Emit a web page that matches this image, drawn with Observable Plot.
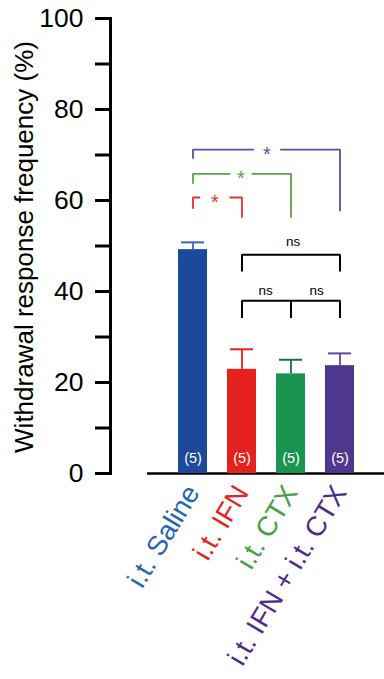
<!DOCTYPE html>
<html>
<head>
<meta charset="utf-8">
<script src="https://cdn.jsdelivr.net/npm/d3@7"></script>
<script src="https://cdn.jsdelivr.net/npm/@observablehq/plot@0.6"></script>
<style>
  html, body { margin: 0; padding: 0; background: #fff; }
  #chart svg { display: block; }
</style>
</head>
<body>
<div id="chart"></div>
<script>
// ---- data ----
const categories = ["i.t. Saline", "i.t. IFN", "i.t. CTX", "i.t. IFN + i.t. CTX"];
const means = [49.2, 22.9, 21.9, 23.7];
const sems = [1.6, 4.4, 3.1, 2.7];
const nLabels = ["(5)", "(5)", "(5)", "(5)"];
const barColors = ["#1b4a9c", "#e5211d", "#1a9550", "#4f378f"];
const errColors = ["#3a68b5", "#e5241f", "#1d6e3e", "#5a4aa5"];
const labelColors = ["#2864b4", "#e3241f", "#45a041", "#4b2c8c"];
const yTicks = [0, 10, 20, 30, 40, 50, 60, 70, 80, 90, 100];
const yTickLabels = [0, 20, 40, 60, 80, 100];
const yTitle = "Withdrawal response frequency (%)";

// significance brackets (values in y-data units)
const sigBrackets = [
  {id: "red", color: "#e8302c", from: "i.t. Saline", to: "i.t. IFN", top: 60.66, legFrom: 58.2, legTo: 56.2},
  {id: "green", color: "#5aa448", from: "i.t. Saline", to: "i.t. CTX", top: 65.87, legFrom: 63.67, legTo: 56.2},
  {id: "purple", color: "#5b4fa3", from: "i.t. Saline", to: "i.t. IFN + i.t. CTX", top: 71.2, legFrom: 69.2, legTo: 57.65}
];
const sigMarks = ["*", "*", "*"];
const sigMarkX = ["i.t. IFN", "i.t. IFN", "i.t. IFN"];
const sigMarkShift = [-27, -1, 25];
const sigGapWidth = [22, 14, 19];

const nsBrackets = [
  {id: "ns1", from: "i.t. IFN", to: "i.t. IFN + i.t. CTX", top: 48.07, legFrom: 44.4, legTo: 44.4},
  {id: "ns2", from: "i.t. IFN", to: "i.t. IFN + i.t. CTX", top: 37.96, legFrom: 34.2, legTo: 34.2}
];
const nsMid = {x: "i.t. CTX", top: 37.96, bottom: 34.2};
const nsLabels = [
  {text: "ns", x: "i.t. CTX", y: 51.0, shift: 2},
  {text: "ns", x: "i.t. CTX", y: 40.2, shift: -25.5},
  {text: "ns", x: "i.t. CTX", y: 40.2, shift: 25.5}
];

// ---- build tables ----
const bars = categories.map((c, i) => ({
  cat: c, mean: means[i], sem: sems[i], n: nLabels[i],
  fill: barColors[i], err: errColors[i], lab: labelColors[i]
}));
function bracketPoints(b) {
  const color = b.color || "black";
  return [
    {id: b.id, x: b.from, y: b.legFrom, color},
    {id: b.id, x: b.from, y: b.top, color},
    {id: b.id, x: b.to, y: b.top, color},
    {id: b.id, x: b.to, y: b.legTo, color}
  ];
}
const sigPts = sigBrackets.flatMap(bracketPoints);
const nsPts = nsBrackets.flatMap(bracketPoints).concat([
  {id: "nsmid", x: nsMid.x, y: nsMid.top, color: "black"},
  {id: "nsmid", x: nsMid.x, y: nsMid.bottom, color: "black"}
]);
const stars = sigBrackets.map((b, i) => ({
  text: sigMarks[i], x: sigMarkX[i], y: b.top, color: b.color, shift: sigMarkShift[i], gap: sigGapWidth[i]
}));

const font = "'Liberation Sans', Arial, Helvetica, sans-serif";

const chart = Plot.plot({
  width: 384,
  height: 679,
  marginLeft: 147,
  marginRight: 0,
  marginTop: 18,
  marginBottom: 206,
  style: {fontFamily: font, fontSize: "26.5px", background: "#fff", color: "#000"},
  x: {domain: categories, paddingInner: 0.4, paddingOuter: 0.594, align: 0.515, axis: null},
  y: {domain: [0, 100], axis: null},
  color: {type: "identity"},
  marks: [
    // y axis
    Plot.frame({anchor: "left", dx: -37, strokeWidth: 3, stroke: "#000"}),
    Plot.axisY(yTicks, {
      anchor: "left", dx: -37, tickSize: 15, strokeWidth: 3, tickPadding: 12,
      tickFormat: d => yTickLabels.includes(d) ? String(d) : "", label: null
    }),
    Plot.text([yTitle], {
      frameAnchor: "left", textAnchor: "middle", rotate: -90, dx: -122.5, dy: 1, fontSize: 26, fill: "#000"
    }),
    // baseline
    Plot.ruleY([0], {strokeWidth: 2.5, stroke: "#000"}),
    // bars
    Plot.barY(bars, {x: "cat", y: "mean", fill: "fill"}),
    // error bars
    Plot.ruleX(bars, {x: "cat", y1: "mean", y2: d => d.mean + d.sem, stroke: "err", strokeWidth: 1.8}),
    Plot.tickY(bars, {x: "cat", y: d => d.mean + d.sem, stroke: "err", strokeWidth: 2, insetLeft: 3, insetRight: 3}),
    // n labels
    Plot.text(bars, {x: "cat", y: () => 0, text: "n", fill: "#fff", fontSize: 14.5, dy: -15}),
    // category labels
    Plot.text(bars, {
      x: "cat", text: "cat", frameAnchor: "bottom", rotate: -59, textAnchor: "end",
      dx: 7.5, dy: 19, fill: "lab", fontSize: 27.5
    }),
    // significance brackets
    Plot.line(sigPts, {x: "x", y: "y", z: "id", stroke: "color", strokeWidth: 1.8, strokeLinejoin: "miter", strokeLinecap: "butt", curve: "linear"}),
    Plot.line(nsPts, {x: "x", y: "y", z: "id", stroke: "color", strokeWidth: 2, strokeLinejoin: "miter", strokeLinecap: "butt", curve: "linear"}),
    // stars with white gap
    ...stars.map(s => Plot.text([s], {
      x: "x", y: "y", text: "text", fill: "color", dx: s.shift, dy: 5, fontSize: 20,
      stroke: "#fff", strokeWidth: s.gap, strokeLinejoin: "round"
    })),
    ...nsLabels.map(l => Plot.text([l], {x: "x", y: "y", text: "text", dx: l.shift, fill: "#000", fontSize: 13.5}))
  ]
});

document.getElementById("chart").appendChild(chart);
</script>
</body>
</html>
